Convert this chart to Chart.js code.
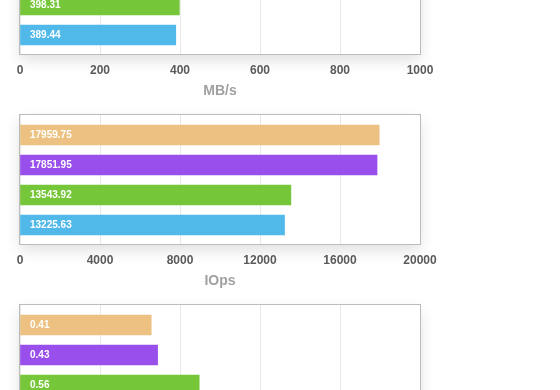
<!DOCTYPE html>
<html>
<head>
<meta charset="utf-8">
<script src="https://cdn.jsdelivr.net/npm/chart.js@4"></script>
<style>
  html, body { margin: 0; padding: 0; background: #fff; overflow: hidden; width: 560px; height: 390px; }
  .box { position: absolute; left: 0; width: 560px; height: 190px; }
</style>
</head>
<body>
<div class="box" style="top:-85px"><canvas id="chartMbs"></canvas></div>
<div class="box" style="top:105px"><canvas id="chartIops"></canvas></div>
<div class="box" style="top:295px"><canvas id="chartLat"></canvas></div>
<script>
// data (each chart: top bar -> bottom bar)
const barColors = ["#ecc181", "#994feb", "#76c63a", "#50b9ea"];

const mbsValues = [420.0, 405.0, 398.31, 389.44]; // top two bars are cut off in the picture
const iopsValues = [17959.75, 17851.95, 13543.92, 13225.63];
const latValues = [0.41, 0.43, 0.56, 0.6]; // last bar is cut off

const mbsTicks = { max: 1000, step: 200 };
const iopsTicks = { max: 20000, step: 4000 };
const latTicks = { max: 1.25, step: 0.25 };

// white frame with soft shadow + grey border round the plot area
const framePlugin = {
  id: "frame",
  beforeDraw(chart) {
    const { ctx, chartArea: a } = chart;
    ctx.save();
    ctx.shadowColor = "rgba(0,0,0,0.13)";
    ctx.shadowBlur = 14;
    ctx.shadowOffsetY = 6;
    ctx.fillStyle = "#fff";
    ctx.fillRect(a.left, a.top, a.right - a.left, a.bottom - a.top);
    ctx.restore();
  },
  afterDraw(chart) {
    const { ctx, chartArea: a } = chart;
    ctx.save();
    ctx.strokeStyle = "#bcbcbc";
    ctx.lineWidth = 1;
    ctx.strokeRect(a.left - 0.5, a.top - 0.5, a.right - a.left + 1, a.bottom - a.top + 1);
    ctx.restore();
  }
};

// value text inside each bar
const valueLabels = {
  id: "valueLabels",
  afterDatasetsDraw(chart) {
    const { ctx, chartArea: a } = chart;
    const meta = chart.getDatasetMeta(0);
    ctx.save();
    ctx.font = "bold 10px 'Liberation Sans', Arial, sans-serif";
    ctx.fillStyle = "#fff";
    ctx.textBaseline = "middle";
    ctx.textAlign = "left";
    meta.data.forEach((bar, i) => {
      ctx.fillText(chart.data.datasets[0].data[i].label, a.left + 10, bar.y + 0.5);
    });
    ctx.restore();
  }
};

function createChart(id, values, ticks, title) {
  const data = values.map((v, i) => ({ x: v, y: i, label: String(v) }));
  return new Chart(document.getElementById(id), {
    type: "bar",
    data: {
      datasets: [{
        data,
        backgroundColor: barColors,
        borderWidth: 0,
        barThickness: 20
      }]
    },
    options: {
      indexAxis: "y",
      responsive: true,
      maintainAspectRatio: false,
      animation: false,
      layout: { padding: { left: 20, right: 140, top: 10, bottom: 0 } },
      plugins: { legend: { display: false }, tooltip: { enabled: false } },
      scales: {
        y: {
          type: "linear",
          reverse: true,
          offset: false,
          min: -0.667,
          max: 3.633,
          display: false
        },
        x: {
          min: 0,
          max: ticks.max,
          ticks: {
            stepSize: ticks.step,
            padding: 9,
            color: "#5a5a5a",
            font: { family: "'Liberation Sans', Arial, sans-serif", size: 12, weight: "bold" },
            callback: v => String(v)
          },
          grid: { color: "#e8e8e8", drawTicks: false },
          border: { display: false },
          title: {
            display: title !== "",
            text: title,
            color: "#a0a0a0",
            padding: { top: 0, bottom: 5 },
            font: { family: "'Liberation Sans', Arial, sans-serif", size: 14, weight: "bold" }
          },
          afterFit(scale) { scale.height = 51; }
        }
      }
    },
    plugins: [framePlugin, valueLabels]
  });
}

createChart("chartMbs", mbsValues, mbsTicks, "MB/s");
createChart("chartIops", iopsValues, iopsTicks, "IOps");
createChart("chartLat", latValues, latTicks, "ms");
</script>
</body>
</html>
